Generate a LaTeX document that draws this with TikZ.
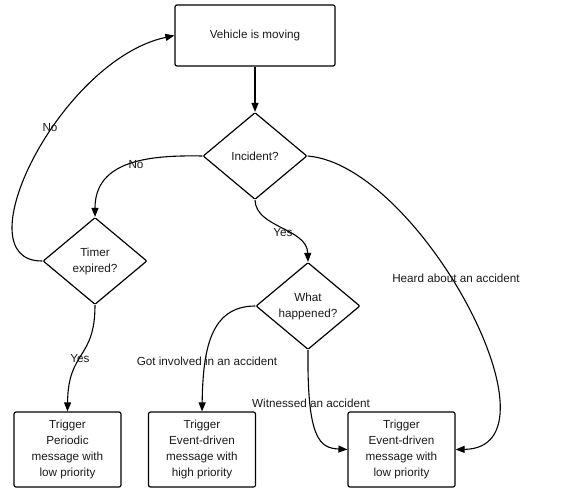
\documentclass[tikz,border=0pt]{standalone}
\usepackage{fontspec}
\setmainfont{Liberation Sans}
\usetikzlibrary{arrows.meta,shapes.geometric}
\begin{document}
\begin{tikzpicture}[x=1pt,y=-1pt,
  every node/.style={font=\fontsize{11.7pt}{16pt}\selectfont, text=black!90},
  box/.style={draw, line width=1.2pt, rounded corners=2pt, minimum width=107pt, minimum height=75pt, align=center, inner sep=0pt},
  topbox/.style={draw, line width=1.2pt, rounded corners=2pt, minimum width=160pt, minimum height=61pt, align=center, inner sep=0pt},
  decision/.style={draw, diamond, line width=1.2pt, rounded corners=1pt, minimum width=104pt, minimum height=87pt, aspect=1.2, inner sep=0pt, align=center},
  conn/.style={line width=1.1pt, -{Triangle[length=9pt,width=7pt]}},
  lbl/.style={inner sep=1pt}
]
\useasboundingbox (0,0) rectangle (586,489);
\node[topbox] (veh) at (255,35.5) {Vehicle is moving};
\node[decision] (inc) at (255,156) {Incident?};
\node[decision] (tim) at (95,261) {Timer\\expired?};
\node[decision] (what) at (308,306) {What\\happened?};
\node[box] (b1) at (67.5,449.5) {Trigger\\Periodic\\message with\\low priority};
\node[box] (b2) at (202,449.5) {Trigger\\Event-driven\\message with\\high priority};
\node[box] (b3) at (401.5,449.5) {Trigger\\Event-driven\\message with\\low priority};

\draw[conn] (veh.south) -- (inc.north);
\draw[conn] (inc.west) .. controls (150,155) and (95,160) .. (tim.north);
\draw[conn] (tim.west) .. controls (-40,262) and (60,60) .. (veh.west);
\draw[conn] (inc.south) .. controls (256,228) and (307,228) .. (what.north);
\draw[conn] (inc.east) .. controls (420,165) and (570,448) .. (b3.east);
\draw[conn] (tim.south) .. controls (95,360) and (68,350) .. (b1.north);
\draw[conn] (what.west) .. controls (210,306) and (203,350) .. (b2.north);
\draw[conn] (what.south) .. controls (307,440) and (320,448) .. (b3.west);

\node[lbl] (l1) at (50,128) {No};
\node[lbl] (l2) at (136,165) {No};
\node[lbl] (l3) at (283,233) {Yes};
\node[lbl] (l4) at (456,278) {Heard about an accident};
\node[lbl] (l5) at (80,359) {Yes};
\node[lbl] (l6) at (207,361) {Got involved in an accident};
\node[lbl] (l7) at (311,403) {Witnessed an accident};
\end{tikzpicture}
\end{document}
